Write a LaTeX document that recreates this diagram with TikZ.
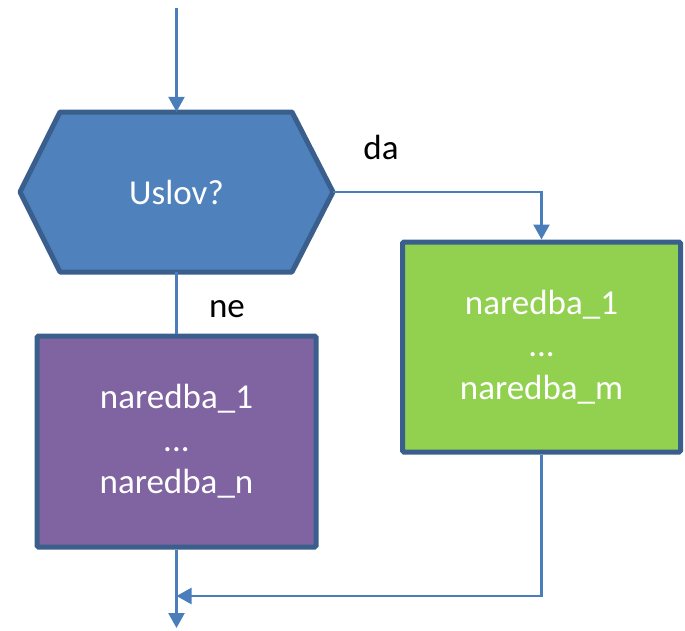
\documentclass[tikz,border=0pt]{standalone}
\usepackage{fontspec}
\setmainfont{Carlito}
\usetikzlibrary{arrows.meta}
\definecolor{edgeblue}{HTML}{3A5F8C}
\definecolor{hexfill}{HTML}{4F81BD}
\definecolor{purplefill}{HTML}{8064A2}
\definecolor{greenfill}{HTML}{92D050}
\definecolor{linkblue}{HTML}{4A7EBB}
\tikzset{
  txt/.style={font=\fontsize{35}{42.5}\selectfont, align=center, inner sep=0pt},
  blockbox/.style={draw=edgeblue, line width=5pt, rounded corners=1.5pt, text=white, txt},
  link/.style={draw=linkblue, line width=2.5pt},
  arr/.style={link, -{Triangle[width=16pt,length=15pt]}},
  lbl/.style={txt, text=black}
}
\begin{document}
\begin{tikzpicture}[x=1pt,y=-1pt]
\useasboundingbox (0,0) rectangle (685,630);
% decision hexagon
\draw[draw=edgeblue, fill=hexfill, line width=5pt, line join=round]
  (60,112) -- (292,112) -- (333,192) -- (292,272) -- (60,272) -- (20,192) -- cycle;
\node[txt, text=white, minimum width=313pt, minimum height=160pt] (cond) at (176.5,192) {Uslov?};
% blocks
\node[blockbox, fill=purplefill, minimum width=279pt, minimum height=211pt] (pblock) at (176.5,441.5)
  {naredba\_1\\...\\naredba\_n};
\node[blockbox, fill=greenfill, minimum width=278pt, minimum height=210pt] (gblock) at (541.5,347)
  {naredba\_1\\...\\naredba\_m};
% coordinates
\coordinate (start) at (176.5,8);
\coordinate (join) at (176.5,596);
\coordinate (finish) at (176.5,628);
% connectors
\draw[arr] (start) -- (cond.north);
\draw[arr] (cond.east) -| (gblock.north);
\draw[link] (cond.south) -- (pblock.north);
\draw[arr] (gblock.south) |- (join);
\draw[arr] (pblock.south) -- (finish);
% labels
\node[lbl] (da) at (381,147) {da};
\node[lbl] (ne) at (227,309) {ne};
\end{tikzpicture}
\end{document}
